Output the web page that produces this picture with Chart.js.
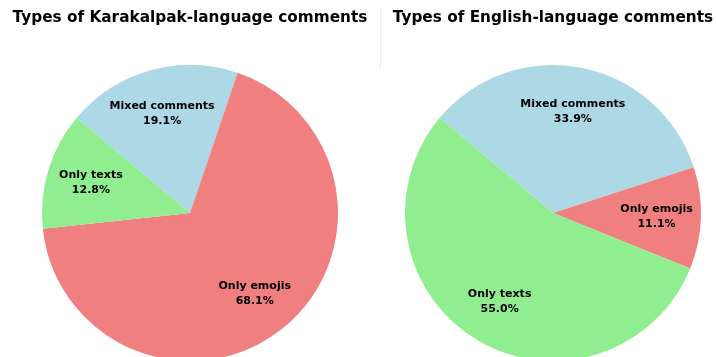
<!DOCTYPE html>
<html>
<head>
<meta charset="utf-8">
<script src="https://cdn.jsdelivr.net/npm/chart.js@4/dist/chart.umd.min.js"></script>
<style>
  body { margin: 0; background: #fff; overflow: hidden; }
  #wrap { position: relative; width: 716px; height: 357px; overflow: hidden; }
  .box { position: absolute; top: 0; height: 370px; }
  .title { position: absolute; top: 8px; font: bold 15.3px "DejaVu Sans", sans-serif; color: #000; white-space: nowrap; transform: translateX(-50%); }
  #sep { position: absolute; left: 380px; top: 7px; width: 1px; height: 62px; background: #ececf6; }
</style>
</head>
<body>
<div id="wrap">
  <div class="box" style="left:0; width:380px;"><canvas id="chartKk"></canvas></div>
  <div class="box" style="left:380px; width:336px;"><canvas id="chartEn"></canvas></div>
  <div id="sep"></div>
  <div class="title" style="left:190px;">Types of Karakalpak-language comments</div>
  <div class="title" style="left:553px;">Types of English-language comments</div>
</div>
<script>
//-----------------------------------
// Data (listed clockwise, starting at the mixed slice)
//-----------------------------------
var categories = ["Mixed comments", "Only emojis", "Only texts"];
var karakalpakValues = [19.1, 68.1, 12.8]; // percent
var englishValues = [33.9, 11.1, 55.0]; // percent
var sliceColors = ["#add8e6", "#f08080", "#90ee90"];

//---------------------------------------------------------
// draws "name\npct%" inside each slice at 0.7 of the radius
//---------------------------------------------------------
const sliceLabels = {
  id: "sliceLabels",
  afterDatasetsDraw(chart) {
    const ctx = chart.ctx;
    const meta = chart.getDatasetMeta(0);
    const vals = chart.data.datasets[0].data;
    ctx.save();
    ctx.font = "bold 11px 'DejaVu Sans', sans-serif";
    ctx.fillStyle = "#000";
    ctx.textAlign = "center";
    ctx.textBaseline = "middle";
    meta.data.forEach(function (arc, i) {
      const p = arc.getProps(["x", "y", "startAngle", "endAngle", "outerRadius"], true);
      const mid = (p.startAngle + p.endAngle) / 2;
      const r = p.outerRadius * 0.7;
      const x = p.x + Math.cos(mid) * r;
      const y = p.y + Math.sin(mid) * r;
      ctx.fillText(chart.data.labels[i], x, y - 7.5);
      ctx.fillText(vals[i].toFixed(1) + "%", x, y + 7.5);
    });
    ctx.restore();
  }
};

function drawPie(canvasId, values, pad) {
  const config = {
    type: "pie",
    data: {
      labels: categories,
      datasets: [{
        data: values,
        backgroundColor: sliceColors,
        borderWidth: 0,
        hoverOffset: 0
      }]
    },
    options: {
      responsive: true,
      maintainAspectRatio: false,
      animation: false,
      rotation: -50, // same start angle for both pies
      layout: { padding: pad },
      plugins: {
        legend: { display: false },
        tooltip: { enabled: false },
        title: { display: false }
      }
    },
    plugins: [sliceLabels]
  };
  return new Chart(document.getElementById(canvasId), config);
}

drawPie("chartKk", karakalpakValues, { top: 65, bottom: 9, left: 42, right: 42 });
drawPie("chartEn", englishValues, { top: 65, bottom: 9, left: 25, right: 15 });
</script>
</body>
</html>
